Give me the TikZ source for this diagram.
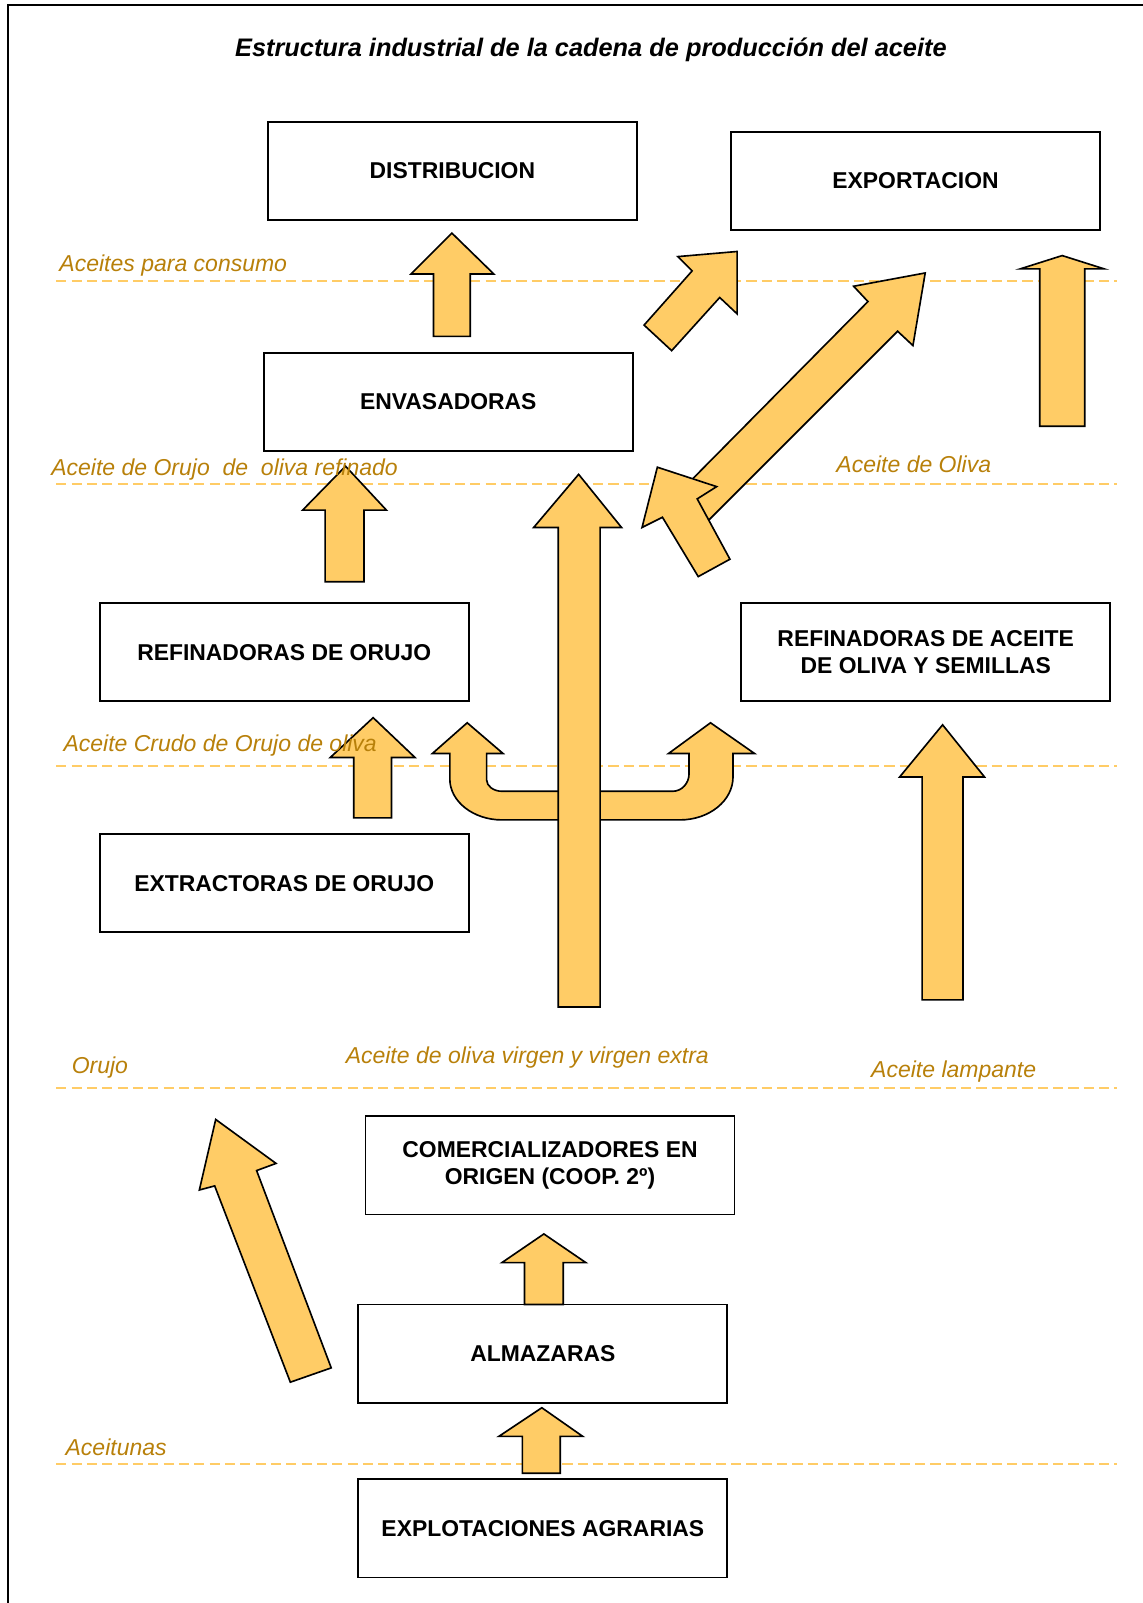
\documentclass[tikz,border=0pt]{standalone}
\usepackage{fontspec}
\setmainfont{Liberation Sans}
\definecolor{arrowfill}{RGB}{255,204,102}
\definecolor{guidecol}{RGB}{255,204,102}
\definecolor{labcol}{RGB}{184,128,10}
\newcommand\bxfont{\fontsize{22.4}{27}\selectfont\bfseries}
\newcommand\lbfont{\fontsize{22.5}{27}\selectfont\itshape}
\newcommand\ttlfont{\fontsize{24.8}{30}\selectfont\bfseries\itshape}
\tikzset{
  box/.style={draw=black, line width=1.8pt, fill=white, minimum width=361pt, minimum height=96pt, inner sep=0pt, align=center, font=\bxfont},
  blk/.style={draw=black, line width=1.6pt, fill=arrowfill, line join=miter},
  guide/.style={draw=guidecol, line width=2pt, dash pattern=on 10pt off 5pt},
  lab/.style={text=labcol, font=\lbfont, anchor=base west, inner sep=0pt},
}
\begin{document}
\begin{tikzpicture}[x=1pt,y=-1pt]
\useasboundingbox (0,0) rectangle (1118,1568);
% frame
\draw[line width=2.5pt] (8,1580) -- (8,5) -- (1130,5);
% title
\node[font=\ttlfont] (title) at (578,49) {Estructura industrial de la cadena de producción del aceite};
% guide lines
\coordinate (g1a) at (55,275);  \coordinate (g1b) at (1093,275);
\coordinate (g2a) at (55,473);  \coordinate (g2b) at (1093,473);
\coordinate (g3a) at (55,749);  \coordinate (g3b) at (1093,749);
\coordinate (g4a) at (55,1064); \coordinate (g4b) at (1093,1064);
\coordinate (g5a) at (55,1432); \coordinate (g5b) at (1093,1432);
\draw[guide] (g1a) -- (g1b);
\draw[guide] (g2a) -- (g2b);
\draw[guide] (g3a) -- (g3b);
\draw[guide] (g4a) -- (g4b);
\draw[guide] (g5a) -- (g5b);
% boxes
\node[box] (dist) at (442.5,167) {DISTRIBUCION};
\node[box] (expo) at (895.5,177) {EXPORTACION};
\node[box] (envas) at (438.5,393) {ENVASADORAS};
\node[box] (reforujo) at (278,638) {REFINADORAS DE ORUJO};
\node[box] (refaceite) at (905.5,638) {REFINADORAS DE ACEITE\\DE OLIVA Y SEMILLAS};
\node[box] (extr) at (278,864) {EXTRACTORAS DE ORUJO};
\node[box] (comer) at (538,1140) {COMERCIALIZADORES EN\\ORIGEN (COOP. 2º)};
\node[box] (almaz) at (531,1324) {ALMAZARAS};
\node[box] (explot) at (531,1495) {EXPLOTACIONES AGRARIAS};
% block arrows
\draw[blk] (424,329) -- (424,268) -- (402,268) -- (442,228) -- (483,268) -- (460,268) -- (460,329) -- cycle;
\draw[blk] (630,318) -- (677,265) -- (663,251) -- (721,246) -- (721,307) -- (704,291) -- (657,343) -- cycle;
\draw[blk] (668,478) -- (849,295) -- (835,280) -- (905,267) -- (893,338) -- (878,324) -- (685,517) -- cycle;
\draw[blk] (643,457) -- (701,476) -- (682,488) -- (714,547) -- (683,564) -- (648,506) -- (628,516) -- cycle;
\draw[blk] (1017,417) -- (1017,263) -- (998,263) -- (1039,250) -- (1080,263) -- (1061,263) -- (1061,417) -- cycle;
\draw[blk] (318,569) -- (318,499) -- (296,499) -- (338,456) -- (378,499) -- (356,499) -- (356,569) -- cycle;
\draw[blk] (346,800) -- (346,741) -- (323,741) -- (365,702) -- (406,741) -- (383,741) -- (383,800) -- cycle;
\draw[blk] (560,774) -- (491,774) .. controls (483,774) and (476,769) .. (476,763) -- (476,737) -- (492,737) -- (457,707) -- (423,737) -- (440,737) -- (440,762) .. controls (440,784) and (463,802) .. (491,802) -- (560,802) -- cycle;
\draw[blk] (573,774) -- (658,774) .. controls (667,774) and (674,766) .. (674,757) -- (674,737) -- (654,737) -- (695,707) -- (738,737) -- (717,737) -- (717,760) .. controls (717,783) and (694,802) .. (665,802) -- (573,802) -- cycle;
\draw[blk] (546,985) -- (546,516) -- (522,516) -- (566,464) -- (608,516) -- (587,516) -- (587,985) -- cycle;
\draw[blk] (902,978) -- (902,760) -- (880,760) -- (922,709) -- (963,760) -- (942,760) -- (942,978) -- cycle;
\draw[blk] (513,1276) -- (513,1235) -- (491,1235) -- (532,1207) -- (573,1235) -- (551,1235) -- (551,1276) -- cycle;
\draw[blk] (511,1441) -- (511,1405) -- (488,1405) -- (530,1377) -- (570,1405) -- (548,1405) -- (548,1441) -- cycle;
\draw[blk] (211,1095) -- (270,1138) -- (251,1145) -- (324,1338) -- (284,1352) -- (210,1160) -- (195,1164) -- cycle;
% labels
\node[lab] (l1) at (58,266) {Aceites para consumo};
\node[lab] (l2) at (50,465) {Aceite de Orujo\ \ de\ \ oliva refinado};
\node[lab] (l3) at (818,462) {Aceite de Oliva};
\node[lab] (l4) at (62,735) {Aceite Crudo de Orujo de oliva};
\node[lab] (l5) at (70,1050) {Orujo};
\node[lab] (l6) at (338,1040) {Aceite de oliva virgen y virgen extra};
\node[lab] (l7) at (852,1054) {Aceite lampante};
\node[lab] (l8) at (64,1424) {Aceitunas};
\end{tikzpicture}
\end{document}
